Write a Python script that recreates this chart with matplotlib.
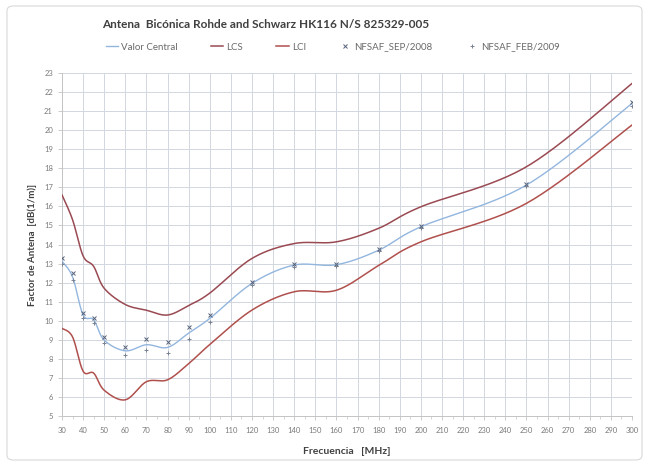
import numpy as np
import matplotlib
matplotlib.use("Agg")
import matplotlib.pyplot as plt
from matplotlib.patches import FancyBboxPatch

# ---------------- data ----------------
freq = [30, 35, 40, 45, 50, 60, 70, 80, 90, 100, 120, 140, 160, 180, 200, 250, 300]
valor_central = [13.13, 12.3, 10.3, 10.05, 8.98, 8.42, 8.74, 8.6, 9.35, 10.12, 11.96, 12.92, 12.94, 13.7, 14.93, 17.12, 21.4]
lcs = [16.6, 15.3, 13.4, 12.85, 11.7, 10.85, 10.55, 10.3, 10.8, 11.45, 13.27, 14.05, 14.14, 14.85, 15.98, 18.08, 22.45]
lci = [9.6, 9.15, 7.35, 7.25, 6.35, 5.85, 6.8, 6.9, 7.75, 8.75, 10.56, 11.52, 11.6, 12.9, 14.14, 16.16, 20.27]
nfsaf_sep = [13.27, 12.49, 10.39, 10.13, 9.16, 8.64, 9.02, 8.9, 9.65, 10.3, 12.05, 13.0, 13.0, 13.75, 14.98, 17.15, 21.5]
nfsaf_feb = [13.0, 12.13, 10.13, 9.86, 8.81, 8.2, 8.46, 8.29, 9.05, 9.95, 11.87, 12.83, 12.88, 13.65, 14.88, 17.08, 21.25]

x_ticks = list(range(30, 301, 10))
y_ticks = list(range(5, 24))

title = "Antena  Bicónica Rohde and Schwarz HK116 N/S 825329-005"
xlabel = "Frecuencia   [MHz]"
ylabel = "Factor de Antena  [dB(1/m)]"

# ---------------- figure ----------------
W, H, DPI = 6.5, 4.66, 100
fig = plt.figure(figsize=(W, H), dpi=DPI)
plt.rcParams['font.family'] = ['Lato', 'DejaVu Sans']

ax_l, ax_b, ax_w, ax_h = 62 / 650, 50 / 466, 570 / 650, 343 / 466
ax = fig.add_axes([ax_l, ax_b, ax_w, ax_h])
xmin, xmax, ymin, ymax = 30, 300, 5, 23
ax.set_xlim(xmin, xmax)
ax.set_ylim(ymin, ymax)

# outer chart border
fig.patches.append(FancyBboxPatch((7 / 650, 6 / 466), 635 / 650, 454 / 466,
                                  boxstyle="round,pad=0,rounding_size=0.01",
                                  transform=fig.transFigure, fill=False,
                                  edgecolor="#d9d9d9", linewidth=0.8))

sx = ax_w * W * DPI / (xmax - xmin)
sy = ax_h * H * DPI / (ymax - ymin)


def smooth(xs, ys, n=30):
    """Excel-like smoothed line (Catmull-Rom Bezier in screen space)."""
    P = np.column_stack([np.asarray(xs, float) * sx, np.asarray(ys, float) * sy])
    m = len(P)
    out = []
    for i in range(m - 1):
        p0 = P[max(i - 1, 0)]
        p1 = P[i]
        p2 = P[i + 1]
        p3 = P[min(i + 2, m - 1)]
        c1 = p1 + (p2 - p0) / 6.0
        c2 = p2 - (p3 - p1) / 6.0
        t = np.linspace(0, 1, n)[:, None]
        seg = ((1 - t) ** 3) * p1 + 3 * ((1 - t) ** 2) * t * c1 + 3 * (1 - t) * t ** 2 * c2 + t ** 3 * p2
        out.append(seg if i == 0 else seg[1:])
    out = np.vstack(out)
    return out[:, 0] / sx, out[:, 1] / sy


grid_c = "#d2d6de"
ax.set_xticks(x_ticks)
ax.set_yticks(y_ticks)
ax.grid(True, color=grid_c, linewidth=0.7)
ax.set_axisbelow(True)
for s in ax.spines.values():
    s.set_color("#c4c4c4")
    s.set_linewidth(0.7)
ax.spines['top'].set_visible(False)
ax.spines['right'].set_visible(False)
ax.tick_params(axis='both', labelsize=5.5, labelcolor="#7a7a7a", color="#c4c4c4",
               length=3, width=0.6)
ax.tick_params(axis='x', pad=5)
ax.set_xticks(list(range(35, 300, 10)), minor=True)
ax.tick_params(axis='x', which='minor', length=2, color="#c4c4c4", width=0.5)

c_central = "#93b6de"
c_lcs = "#9a4a52"
c_lci = "#b0504d"

xs, ys = smooth(freq, valor_central)
ax.plot(xs, ys, color=c_central, linewidth=1.0, label="Valor Central", zorder=3)
xs, ys = smooth(freq, lcs)
ax.plot(xs, ys, color=c_lcs, linewidth=1.1, label="LCS", zorder=3)
xs, ys = smooth(freq, lci)
ax.plot(xs, ys, color=c_lci, linewidth=1.1, label="LCI", zorder=3)
ax.plot(freq, nfsaf_sep, linestyle="none", marker="x", markersize=2.6, markeredgewidth=0.7,
        color="#55627a", label="NFSAF_SEP/2008", zorder=4)
ax.plot(freq, nfsaf_feb, linestyle="none", marker="+", markersize=3.0, markeredgewidth=0.7,
        color="#7a8392", label="NFSAF_FEB/2009", zorder=4)

leg = fig.legend(loc="center", bbox_to_anchor=(0.512, 1 - 47 / 466), ncol=5, frameon=False,
                 fontsize=7, handlelength=1.3, handletextpad=0.3, columnspacing=3.4,
                 markerscale=0.9)
for t in leg.get_texts():
    t.set_color("#6a6a6a")

fig.text(0.408, 1 - 25 / 466, title, ha="center", va="center", fontsize=8.5,
         fontweight="bold", color="#404040")
fig.text(347 / 650, 1 - 452 / 466, xlabel, ha="center", va="center", fontsize=7.5,
         fontweight="bold", color="#404040")
fig.text(32 / 650, 1 - 245 / 466, ylabel, ha="center", va="center", fontsize=7,
         fontweight="bold", color="#404040", rotation=90)

fig.savefig("out.png", dpi=DPI)
